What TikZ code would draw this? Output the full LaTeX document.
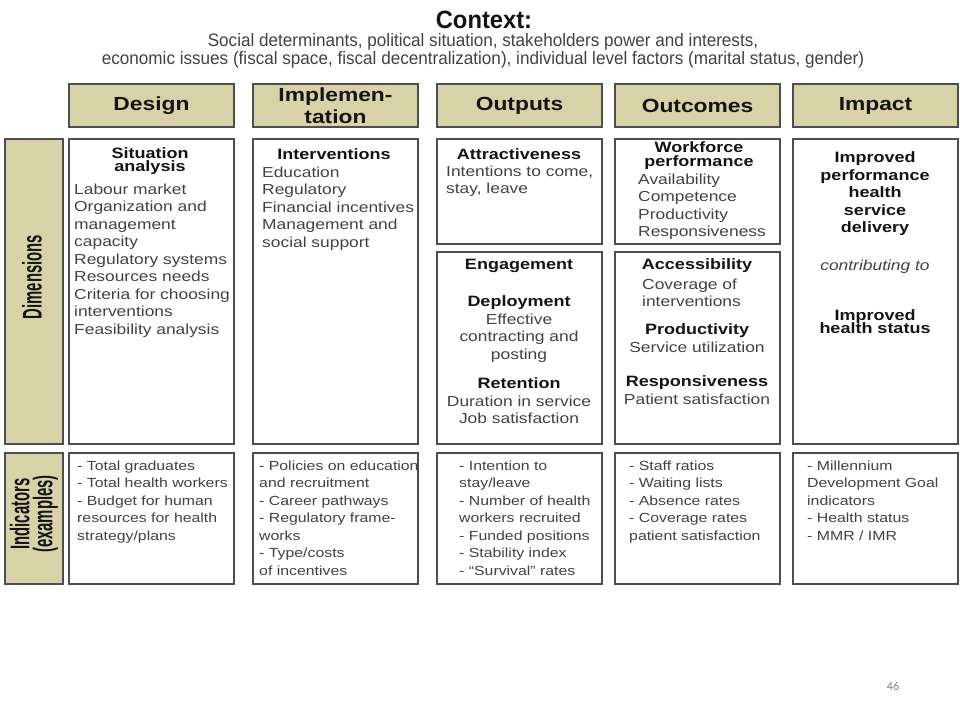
\documentclass[tikz,border=0pt]{standalone}
\usepackage{fontspec}
\setmainfont{Liberation Sans}[FakeStretch=1.2]
\newfontfamily\contextfont{Liberation Sans}[FakeStretch=0.95]
\newfontfamily\rowfont{Liberation Sans}[FakeStretch=0.55]
\newfontfamily\slidefont{Carlito}
\definecolor{headfill}{RGB}{216,210,168}
\definecolor{framegray}{RGB}{78,78,78}
\definecolor{bodygray}{RGB}{66,66,66}
\definecolor{headblack}{RGB}{20,20,20}
\newcommand{\headtxt}[1]{\textcolor{headblack}{\fontsize{15}{17.5}\selectfont\bfseries #1}}
\tikzset{
  frame box/.style={
    rectangle, draw=framegray, line width=1.6pt,
    minimum width=165pt, inner sep=0pt
  },
  head box/.style={
    frame box, fill=headfill, minimum height=43pt,
    text=headblack, align=center,
    font=\fontsize{19}{22}\selectfont\bfseries
  },
  row box/.style={frame box, fill=headfill, minimum width=58pt},
  dim box/.style={frame box, fill=white, minimum height=305pt},
  half box/.style={frame box, fill=white, minimum height=105pt},
  low box/.style={frame box, fill=white, minimum height=192pt},
  ind box/.style={frame box, fill=white, minimum height=131pt},
  row text/.style={
    inner sep=0pt, rotate=90, align=center, text=headblack,
    font=\fontsize{27}{23}\selectfont\rowfont\bfseries
  },
  body text/.style={
    inner sep=0pt, align=left, text=bodygray,
    font=\fontsize{14.5}{17.5}\selectfont
  },
  ind text/.style={
    body text, anchor=north west,
    font=\fontsize{13.2}{17.5}\selectfont
  },
  head text/.style={
    inner sep=0pt, align=center, text=headblack,
    font=\fontsize{15}{17.5}\selectfont\bfseries
  }
}

\begin{document}
\begin{tikzpicture}[x=1pt, y=-1pt]
    \useasboundingbox[fill=white] (0,0) rectangle (960,720);
    % context
    \node[inner sep=0pt, text=headblack, font=\fontsize{25}{26}\selectfont\contextfont\bfseries]
      (context) at (484,20) {Context:};
    \node[inner sep=0pt, align=center, text=bodygray, font=\fontsize{18}{18}\selectfont\contextfont]
      (contextlines) at (483,50.5) {Social determinants, political situation, stakeholders power and interests,\\
      economic issues (fiscal space, fiscal decentralization), individual level factors (marital status, gender)};
    % column heads
    \node[head box] (design) at (151.5,105.5) {Design};
    \node[head box] (implementation) at (335.5,105.5) {Implemen-\\tation};
    \node[head box] (outputs) at (519.5,105.5) {Outputs};
    \node[head box] (outcomes) at (697.5,105.5) {Outcomes};
    \node[head box] (impact) at (875.5,105.5) {Impact};
    % row labels
    \node[row box, minimum height=305pt] (dimrow) at (34,291.5) {};
    \node[row box, minimum height=131pt] (indrow) at (34,518.5) {};
    \node[row text] (dimlabel) at (32,277) {Dimensions};
    \node[row text] (indlabel) at (34,514) {Indicators\\(examples)};
    % dimension boxes
    \node[dim box] (designdim) at (151.5,291.5) {};
    \node[dim box] (impldim) at (335.5,291.5) {};
    \node[half box] (outputstop) at (519.5,191.5) {};
    \node[low box] (outputslow) at (519.5,348) {};
    \node[half box] (outcomestop) at (697.5,191.5) {};
    \node[low box] (outcomeslow) at (697.5,348) {};
    \node[dim box] (impactdim) at (875.5,291.5) {};
    % indicator boxes
    \node[ind box] (designind) at (151.5,518.5) {};
    \node[ind box] (implind) at (335.5,518.5) {};
    \node[ind box] (outputsind) at (519.5,518.5) {};
    \node[ind box] (outcomesind) at (697.5,518.5) {};
    \node[ind box] (impactind) at (875.5,518.5) {};
    % design
    \node[head text] (situation) at (150,161) {Situation\\[-4pt]analysis};
    \node[body text, anchor=north west] (situationlist) at (74,183.5)
      {Labour market\\Organization and\\management\\capacity\\Regulatory systems\\
       Resources needs\\Criteria for choosing\\interventions\\Feasibility analysis};
    % implementation
    \node[head text] (interventions) at (334,154) {Interventions};
    \node[body text, anchor=north west] (interventionlist) at (262,166.5)
      {Education\\Regulatory\\Financial incentives\\Management and\\social support};
    % outputs
    \node[head text] (attractiveness) at (519,154) {Attractiveness};
    \node[body text, anchor=north west] (attractivenesslist) at (446,165.5)
      {Intentions to come,\\stay, leave};
    \node[head text] (engagement) at (519,266) {Engagement};
    \node[body text, align=center, anchor=north] (deployment) at (519,295.5)
      {\headtxt{Deployment}\\Effective\\contracting and\\posting};
    \node[body text, align=center, anchor=north] (retention) at (519,377.5)
      {\headtxt{Retention}\\Duration in service\\Job satisfaction};
    % outcomes
    \node[head text] (workforce) at (699,155.5) {Workforce\\[-4pt]performance};
    \node[body text, anchor=north west] (workforcelist) at (638,173.5)
      {Availability\\Competence\\Productivity\\Responsiveness};
    \node[head text] (accessibility) at (697,266) {Accessibility};
    \node[body text, anchor=north west] (accessibilitylist) at (642,278.5)
      {Coverage of\\interventions};
    \node[body text, align=center, anchor=north] (productivity) at (697,323.5)
      {\headtxt{Productivity}\\Service utilization};
    \node[body text, align=center, anchor=north] (responsiveness) at (697,375.5)
      {\headtxt{Responsiveness}\\Patient satisfaction};
    % impact
    \node[head text, anchor=north] (improvedperf) at (875,151.5)
      {Improved\\performance\\health\\service\\delivery};
    \node[body text, font=\fontsize{14.5}{17.5}\selectfont\itshape] (contributing) at (875,267) {contributing to};
    \node[head text] (improvedstatus) at (875,321.5) {Improved\\[-4pt]health status};
    % indicators
    \node[ind text] (designindlist) at (77,460.5)
      {- Total graduates\\- Total health workers\\- Budget for human\\resources for health\\strategy/plans};
    \node[ind text] (implindlist) at (259,460.5)
      {- Policies on education\\and recruitment\\- Career pathways\\- Regulatory frame-\\works\\- Type/costs\\of incentives};
    \node[ind text] (outputsindlist) at (459,460.5)
      {- Intention to\\stay/leave\\- Number of health\\workers recruited\\- Funded positions\\- Stability index\\- “Survival” rates};
    \node[ind text] (outcomesindlist) at (629,460.5)
      {- Staff ratios\\- Waiting lists\\- Absence rates\\- Coverage rates\\patient satisfaction};
    \node[ind text] (impactindlist) at (807,460.5)
      {- Millennium\\Development Goal\\indicators\\- Health status\\- MMR / IMR};
    % slide number
    \node[inner sep=0pt, text=black!50, font=\fontsize{12}{14}\selectfont\slidefont] (slidenum) at (893,686) {46};
\end{tikzpicture}
\end{document}
